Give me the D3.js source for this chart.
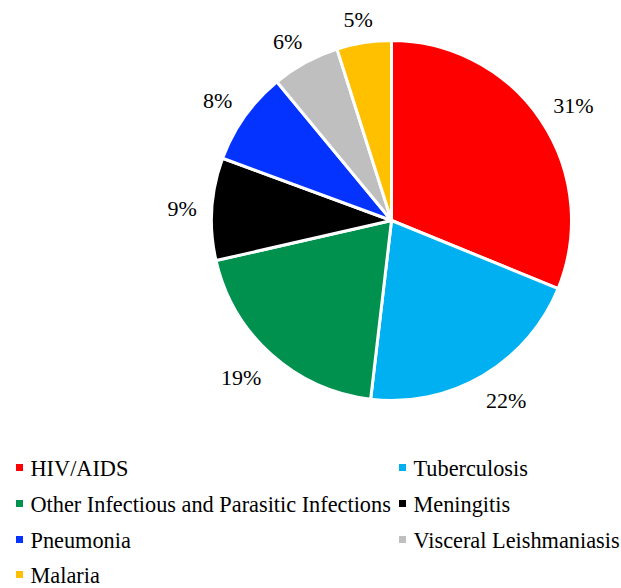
<!DOCTYPE html>
<html><head><meta charset="utf-8">
<script src="https://cdn.jsdelivr.net/npm/d3@7"></script>
<style>body{margin:0;background:#fff}</style>
</head><body>
<svg id="chart" width="621" height="588"></svg>
<script>
const categories = ["HIV/AIDS","Tuberculosis","Other Infectious and Parasitic Infections","Meningitis","Pneumonia","Visceral Leishmaniasis","Malaria"];
// slice shares as drawn in the picture
const values = [31.2, 20.7, 19.6, 9.2, 8.4, 6.1, 4.9];
// percentage labels as printed
const labels = ["31%","22%","19%","9%","8%","6%","5%"];
const colors = ["#FF0000","#00B0F0","#00914F","#000000","#0433FF","#BFBFBF","#FFC000"];

const svg = d3.select("#chart");
const cx = 391.5, cy = 220.5, r = 180;
const FONT = "Liberation Serif";
const FS = 22;

const pie = d3.pie().sort(null).value(d => d.v);
const data = pie(categories.map((c,i)=>({c, v: values[i], lab: labels[i], col: colors[i]})));
const arc = d3.arc().innerRadius(0).outerRadius(r);

const g = svg.append("g").attr("transform", `translate(${cx},${cy})`);
g.selectAll("path").data(data).enter().append("path")
  .attr("d", arc).attr("fill", d => d.data.col)
  .attr("stroke", "#fff").attr("stroke-width", 3).attr("stroke-linejoin","round");

// "outside end" labels: anchor point just outside the arc, box pushed outward
const clamp = v => Math.max(-1, Math.min(1, v));
const R0 = r + 15, HH = 10;
const lbl = g.selectAll("text.lbl").data(data).enter().append("text")
  .attr("class","lbl")
  .attr("font-family", FONT).attr("font-size", FS)
  .attr("text-anchor","middle").attr("dy","0.42em")
  .attr("fill","#000")
  .text(d => d.data.lab);
lbl.each(function(d) {
  const a = (d.startAngle + d.endAngle) / 2;
  const w = this.getComputedTextLength();
  const s = Math.sin(a), c = -Math.cos(a);
  const x = R0 * s + clamp(1.5 * s) * w / 2;
  const y = R0 * c + clamp(1.5 * c) * HH;
  d3.select(this).attr("x", x).attr("y", y);
});

// legend
const colX = [16, 399];
const rowY = [476, 512, 548, 583];
const lg = svg.append("g");
data.forEach((d,i) => {
  const x = colX[i % 2], y = rowY[Math.floor(i/2)];
  lg.append("rect").attr("x", x).attr("y", y - 12).attr("width", 7).attr("height", 7).attr("fill", d.data.col);
  lg.append("text").attr("x", x + 14.5).attr("y", y)
    .attr("font-family", FONT).attr("font-size", 22.3).attr("fill","#000")
    .text(d.data.c);
});
</script>
</body></html>
